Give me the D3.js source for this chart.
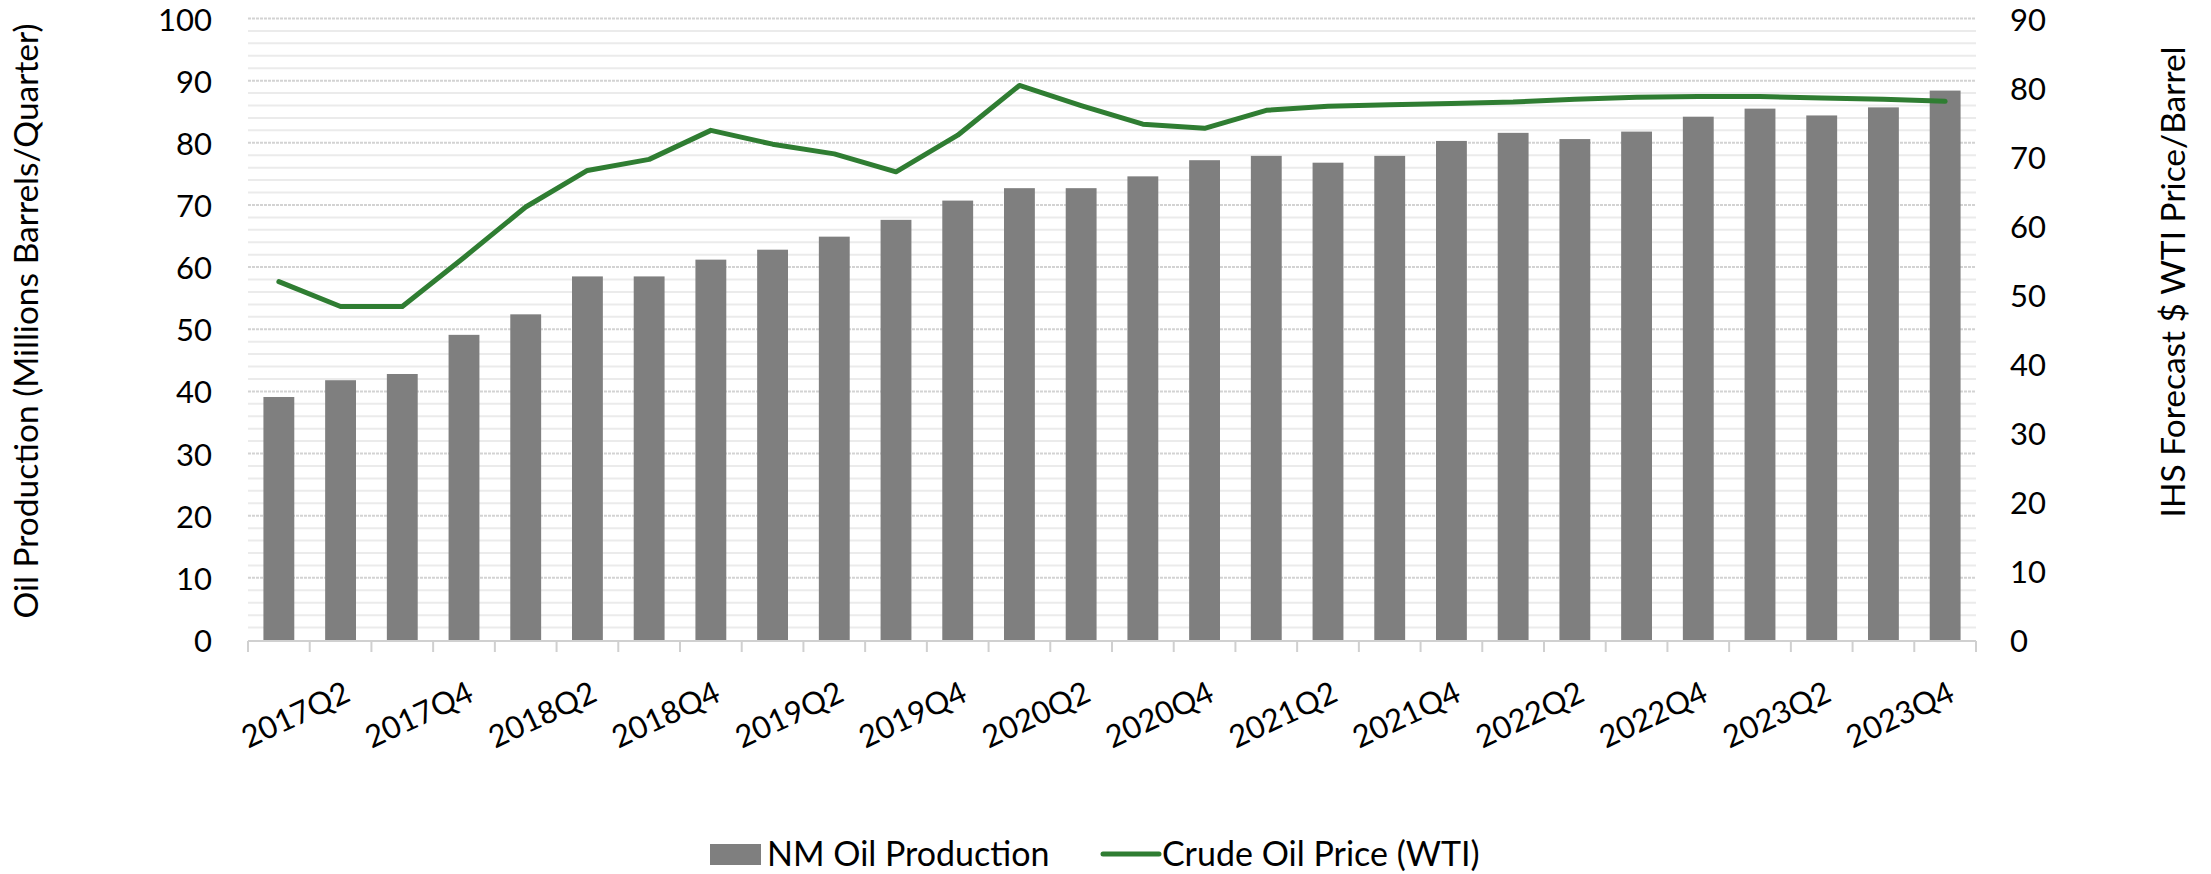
<!DOCTYPE html>
<html>
<head>
<meta charset="utf-8">
<script src="https://cdn.jsdelivr.net/npm/d3@7"></script>
<style>
  html, body { margin: 0; padding: 0; background: #ffffff; }
  svg { display: block; }
  text { font-family: Lato, "Open Sans", sans-serif; fill: #000; }
</style>
</head>
<body>
<svg id="chart" width="2211" height="874"></svg>
<script>
// ---- Data ----
const quarters = [
  "2017Q1","2017Q2","2017Q3","2017Q4",
  "2018Q1","2018Q2","2018Q3","2018Q4",
  "2019Q1","2019Q2","2019Q3","2019Q4",
  "2020Q1","2020Q2","2020Q3","2020Q4",
  "2021Q1","2021Q2","2021Q3","2021Q4",
  "2022Q1","2022Q2","2022Q3","2022Q4",
  "2023Q1","2023Q2","2023Q3","2023Q4"
];
const oilProduction = [
  39.1, 41.8, 42.8, 49.1, 52.4, 58.5, 58.5, 61.2,
  62.8, 64.9, 67.6, 70.7, 72.7, 72.7, 74.6, 77.2,
  77.9, 76.8, 77.9, 80.3, 81.6, 80.6, 81.8, 84.2,
  85.5, 84.4, 85.7, 88.4
];
const oilPrice = [
  51.9, 48.3, 48.3, 55.4, 62.7, 68.0, 69.6, 73.8,
  71.8, 70.4, 67.8, 73.1, 80.3, 77.4, 74.7, 74.1,
  76.7, 77.3, 77.5, 77.7, 77.9, 78.3, 78.6, 78.7,
  78.7, 78.5, 78.3, 78.0
];
const shownLabels = quarters.filter(q => q.endsWith("Q2") || q.endsWith("Q4"));
const leftTicks = d3.range(0, 101, 10);
const rightTicks = d3.range(0, 91, 10);
const minorTicks = d3.range(0, 101, 2);
const seriesNames = ["NM Oil Production", "Crude Oil Price (WTI)"];
const leftTitle = "Oil Production (Millions Barrels/Quarter)";
const rightTitle = "IHS Forecast $ WTI Price/Barrel";

// ---- Layout ----
const plot = { left: 248, right: 1976, top: 18.5, bottom: 640 };
const barColor = "#7f7f7f";
const lineColor = "#2f7d32";
const tickFont = 31;
const titleFont = 33.5;
const legendFont = 34;

const svg = d3.select("#chart");

const x = d3.scaleBand().domain(quarters).range([plot.left, plot.right]).paddingInner(0.5).paddingOuter(0.25);
const xc = q => x(q) + x.bandwidth() / 2;
const yL = d3.scaleLinear().domain([0, 100]).range([plot.bottom, plot.top]);
const yR = d3.scaleLinear().domain([0, 90]).range([plot.bottom, plot.top]);

// minor gridlines
svg.append("g").selectAll("line").data(minorTicks.filter(v => v % 10 !== 0)).join("line")
  .attr("x1", plot.left).attr("x2", plot.right)
  .attr("y1", d => yL(d)).attr("y2", d => yL(d))
  .attr("stroke", "#ebebeb").attr("stroke-width", 2);
// major gridlines
svg.append("g").selectAll("line").data(leftTicks.filter(v => v > 0)).join("line")
  .attr("x1", plot.left).attr("x2", plot.right)
  .attr("y1", d => yL(d)).attr("y2", d => yL(d))
  .attr("stroke", "#d3d3d3").attr("stroke-width", 2).attr("stroke-dasharray", "3,1");

// bars
svg.append("g").selectAll("rect").data(quarters).join("rect")
  .attr("x", d => x(d))
  .attr("width", x.bandwidth())
  .attr("y", (d, i) => yL(oilProduction[i]))
  .attr("height", (d, i) => yL(0) - yL(oilProduction[i]))
  .attr("fill", barColor);

// x axis
const step = x.step();
const boundaries = d3.range(quarters.length + 1).map(i => plot.left + i * step);
const xAxis = svg.append("g");
xAxis.append("line").attr("x1", plot.left).attr("x2", plot.right)
  .attr("y1", plot.bottom + 1).attr("y2", plot.bottom + 1)
  .attr("stroke", "#d0d0d0").attr("stroke-width", 2);
xAxis.selectAll("line.tick").data(boundaries).join("line").attr("class", "tick")
  .attr("x1", d => d).attr("x2", d => d)
  .attr("y1", plot.bottom + 1).attr("y2", plot.bottom + 12)
  .attr("stroke", "#d0d0d0").attr("stroke-width", 2);
xAxis.selectAll("text").data(shownLabels).join("text")
  .attr("transform", d => `translate(${xc(d) + 2},${plot.bottom + 40}) rotate(-25)`)
  .attr("text-anchor", "end")
  .attr("dy", "0.72em")
  .attr("font-size", tickFont)
  .text(d => d);

// line
const line = d3.line().x((d, i) => xc(quarters[i])).y(d => yR(d));
svg.append("path").datum(oilPrice)
  .attr("d", line)
  .attr("fill", "none")
  .attr("stroke", lineColor)
  .attr("stroke-width", 5)
  .attr("stroke-linejoin", "round")
  .attr("stroke-linecap", "round");

// left axis labels
svg.append("g").selectAll("text").data(leftTicks).join("text")
  .attr("x", 212).attr("y", d => yL(d))
  .attr("text-anchor", "end").attr("dominant-baseline", "central")
  .attr("font-size", tickFont)
  .text(d => d);
// right axis labels
svg.append("g").selectAll("text").data(rightTicks).join("text")
  .attr("x", 2010).attr("y", d => yR(d))
  .attr("text-anchor", "start").attr("dominant-baseline", "central")
  .attr("font-size", tickFont)
  .text(d => d);

// axis titles
svg.append("text")
  .attr("transform", "translate(25,321) rotate(-90)")
  .attr("text-anchor", "middle").attr("dominant-baseline", "central")
  .attr("font-size", titleFont)
  .text(leftTitle);
svg.append("text")
  .attr("transform", "translate(2172,282) rotate(-90)")
  .attr("text-anchor", "middle").attr("dominant-baseline", "central")
  .attr("font-size", titleFont)
  .text(rightTitle);

// legend
const lg = svg.append("g");
lg.append("rect").attr("x", 710).attr("y", 844).attr("width", 51).attr("height", 21).attr("fill", barColor);
lg.append("text").attr("x", 767).attr("y", 866).attr("font-size", legendFont).text(seriesNames[0]);
lg.append("line").attr("x1", 1103).attr("x2", 1159).attr("y1", 854).attr("y2", 854)
  .attr("stroke", lineColor).attr("stroke-width", 5).attr("stroke-linecap", "round");
lg.append("text").attr("x", 1162).attr("y", 866).attr("font-size", legendFont).text(seriesNames[1]);
</script>
</body>
</html>
